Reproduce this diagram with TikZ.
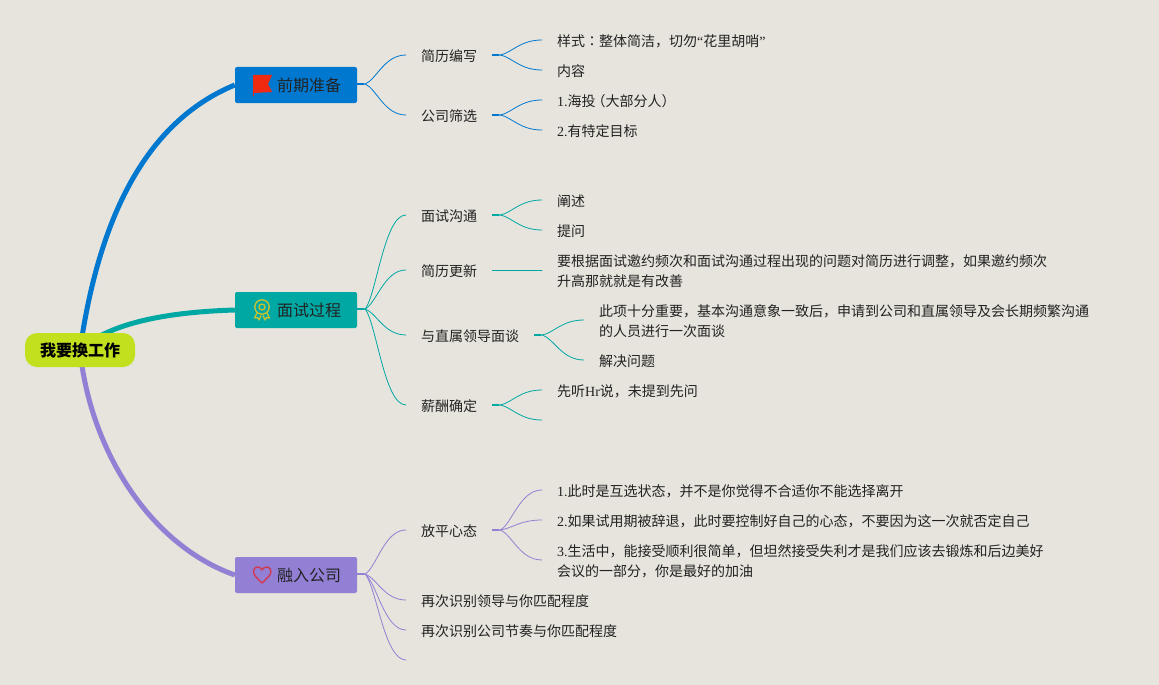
\documentclass[tikz,border=0pt]{standalone}
\usepackage{fontspec}
\setmainfont{Noto Sans CJK SC}
\newfontfamily\latf{Liberation Serif}
\newfontfamily\tcf{Noto Sans CJK TC}
\newcommand{\lt}[1]{{\latf #1}}
\usetikzlibrary{calc}
\pgfdeclarelayer{bg}
\pgfsetlayers{bg,main}
\definecolor{paper}{HTML}{E6E4DC}
\definecolor{cblue}{HTML}{0078D0}
\definecolor{cteal}{HTML}{00A8A4}
\definecolor{cpurple}{HTML}{9380D5}
\definecolor{clime}{HTML}{C3E01F}
\definecolor{ink}{HTML}{222222}
\definecolor{flagred}{HTML}{F02A10}
\definecolor{medal}{HTML}{C9C42E}
\definecolor{heartred}{HTML}{D03A50}
\tikzset{
  x=1pt,y=-1pt,
  root/.style={fill=clime,rounded corners=12pt,minimum width=110pt,minimum height=34pt,inner sep=0pt,font=\fontsize{16}{20}\selectfont\bfseries,text=black},
  branch/.style={fill=#1,rounded corners=2pt,minimum width=122pt,minimum height=36pt,inner sep=0pt,font=\fontsize{16}{20}\selectfont,text=ink},
  item/.style={anchor=west,inner xsep=15pt,inner ysep=1pt,align=left,font=\fontsize{14}{20}\selectfont,text=ink},
  thin conn/.style={line width=.8pt,line cap=round},
  main conn/.style={line width=5pt}
}
% connector: raised 1pt above the centre line of the item nodes, as in the reference
\newcommand{\conn}[3]{%
  \begin{pgfonlayer}{bg}
  \draw[thin conn,#3] let \p1=(#1),\p2=(#2),\n1={\x2-\x1-8pt},\n2={\y2-\y1} in
    (\x1,\y1+1pt) -- (\x1+8pt,\y1+1pt)
    .. controls (\x1+8pt+.28*\n1,\y1+1pt+.16*\n2) and (\x2-.53*\n1,\y2+1pt) .. (\x2,\y2+1pt);
  \draw[line width=2pt,#3] let \p1=(#1) in (\x1,\y1+1pt) -- (\x1+7pt,\y1+1pt);
  \end{pgfonlayer}%
}
\begin{document}
\begin{tikzpicture}
\useasboundingbox (0,0) rectangle (1159,685);
\begin{pgfonlayer}{bg}
  \fill[paper] (0,0) rectangle (1159,685);
\end{pgfonlayer}

% root and main branches
\node[root] (r) at (80,350) {\raisebox{-1pt}{我要换工作}};
\node[branch=cblue] (a) at (296,85) {\hspace*{26pt}\raisebox{-1pt}{前期准备}};
\node[branch=cteal] (b) at (296,310) {\hspace*{26pt}\raisebox{-1pt}{面试过程}};
\node[branch=cpurple] (c) at (296,575) {\hspace*{26pt}\raisebox{-1pt}{融入公司}};

\begin{pgfonlayer}{bg}
  \draw[main conn,cblue] (r.center) .. controls (100,210) and (150,120) .. (a.west);
  \draw[main conn,cteal] (r.center) .. controls (110,322) and (170,312) .. (b.west);
  \draw[main conn,cpurple] (r.center) .. controls (90,450) and (150,545) .. (c.west);
\end{pgfonlayer}

% icons
\fill[flagred] (253,75) -- (272,75) -- (268,84) -- (272,92) -- (253,93) -- cycle;
\draw[flagred,line width=.6pt] (253,93) -- (253,96);
\draw[medal,line width=1.3pt] (262,307) circle (7.2);
\draw[medal,line width=1.3pt] (262,307) circle (3);
\draw[medal,line width=1.3pt,line join=round] (257,313) -- (254.5,318) -- (257.5,317.5) -- (259,320) -- (261,315.5);
\draw[medal,line width=1.3pt,line join=round] (267,313) -- (269.5,318) -- (266.5,317.5) -- (265,320) -- (263,315.5);
\draw[heartred,line width=1.4pt,line join=round] (262,583)
  .. controls (256,577) and (253.5,575) .. (253.5,571.5)
  .. controls (253.5,566) and (260,565.5) .. (262,570)
  .. controls (264,565.5) and (271,566) .. (271,571.5)
  .. controls (271,575) and (268,577) .. (262,583) -- cycle;

% first branch
\node[item] (a1) at (406,56) {简历编写};
\node[item] (a2) at (406,116) {公司筛选};
\node[item] (a11) at (542,41) {样式{\tcf ：}整体简洁，切勿\lt{“}花里胡哨\lt{”}};
\node[item] (a12) at (542,71) {内容};
\node[item] (a21) at (542,101) {\lt{1.}海投\hspace{-4pt}（大部分人）};
\node[item] (a22) at (542,131) {\lt{2.}有特定目标};
\conn{a.east}{a1.west}{cblue}
\conn{a.east}{a2.west}{cblue}
\conn{a1.east}{a11.west}{cblue}
\conn{a1.east}{a12.west}{cblue}
\conn{a2.east}{a21.west}{cblue}
\conn{a2.east}{a22.west}{cblue}

% second branch
\node[item] (b1) at (406,216) {面试沟通};
\node[item] (b2) at (406,271) {简历更新};
\node[item] (b3) at (406,336) {与直属领导面谈};
\node[item] (b4) at (406,406) {薪酬确定};
\node[item] (b11) at (542,201) {阐述};
\node[item] (b12) at (542,231) {提问};
\node[item] (b21) at (542,271) {要根据面试邀约频次和面试沟通过程出现的问题对简历进行调整，如果邀约频次\\升高那就就是有改善};
\node[item] (b31) at (584,321) {此项十分重要，基本沟通意象一致后，申请到公司和直属领导及会长期频繁沟通\\的人员进行一次面谈};
\node[item] (b32) at (584,361) {解决问题};
\node[item] (b41) at (542,391) {先听\lt{Hr}说，未提到先问};
\coordinate (b42) at (542,421);
\conn{b.east}{b1.west}{cteal}
\conn{b.east}{b2.west}{cteal}
\conn{b.east}{b3.west}{cteal}
\conn{b.east}{b4.west}{cteal}
\conn{b1.east}{b11.west}{cteal}
\conn{b1.east}{b12.west}{cteal}
\begin{pgfonlayer}{bg}
  \draw[thin conn,cteal] ([yshift=1pt]b2.east) -- ([yshift=1pt]b21.west);
\end{pgfonlayer}
\conn{b3.east}{b31.west}{cteal}
\conn{b3.east}{b32.west}{cteal}
\conn{b4.east}{b41.west}{cteal}
\conn{b4.east}{b42}{cteal}

% third branch
\node[item] (c1) at (406,531) {放平心态};
\node[item] (c2) at (406,601) {再次识别领导与你匹配程度};
\node[item] (c3) at (406,631) {再次识别公司节奏与你匹配程度};
\coordinate (c4) at (406,661);
\node[item] (c11) at (542,491) {\lt{1.}此时是互选状态，并不是你觉得不合适你不能选择离开};
\node[item] (c12) at (542,521) {\lt{2.}如果试用期被辞退，此时要控制好自己的心态，不要因为这一次就否定自己};
\node[item] (c13) at (542,561) {\lt{3.}生活中，能接受顺利很简单，但坦然接受失利才是我们应该去锻炼和后边美好\\会议的一部分，你是最好的加油};
\conn{c.east}{c1.west}{cpurple}
\conn{c.east}{c2.west}{cpurple}
\conn{c.east}{c3.west}{cpurple}
\conn{c.east}{c4}{cpurple}
\conn{c1.east}{c11.west}{cpurple}
\conn{c1.east}{c12.west}{cpurple}
\conn{c1.east}{c13.west}{cpurple}
\end{tikzpicture}
\end{document}
